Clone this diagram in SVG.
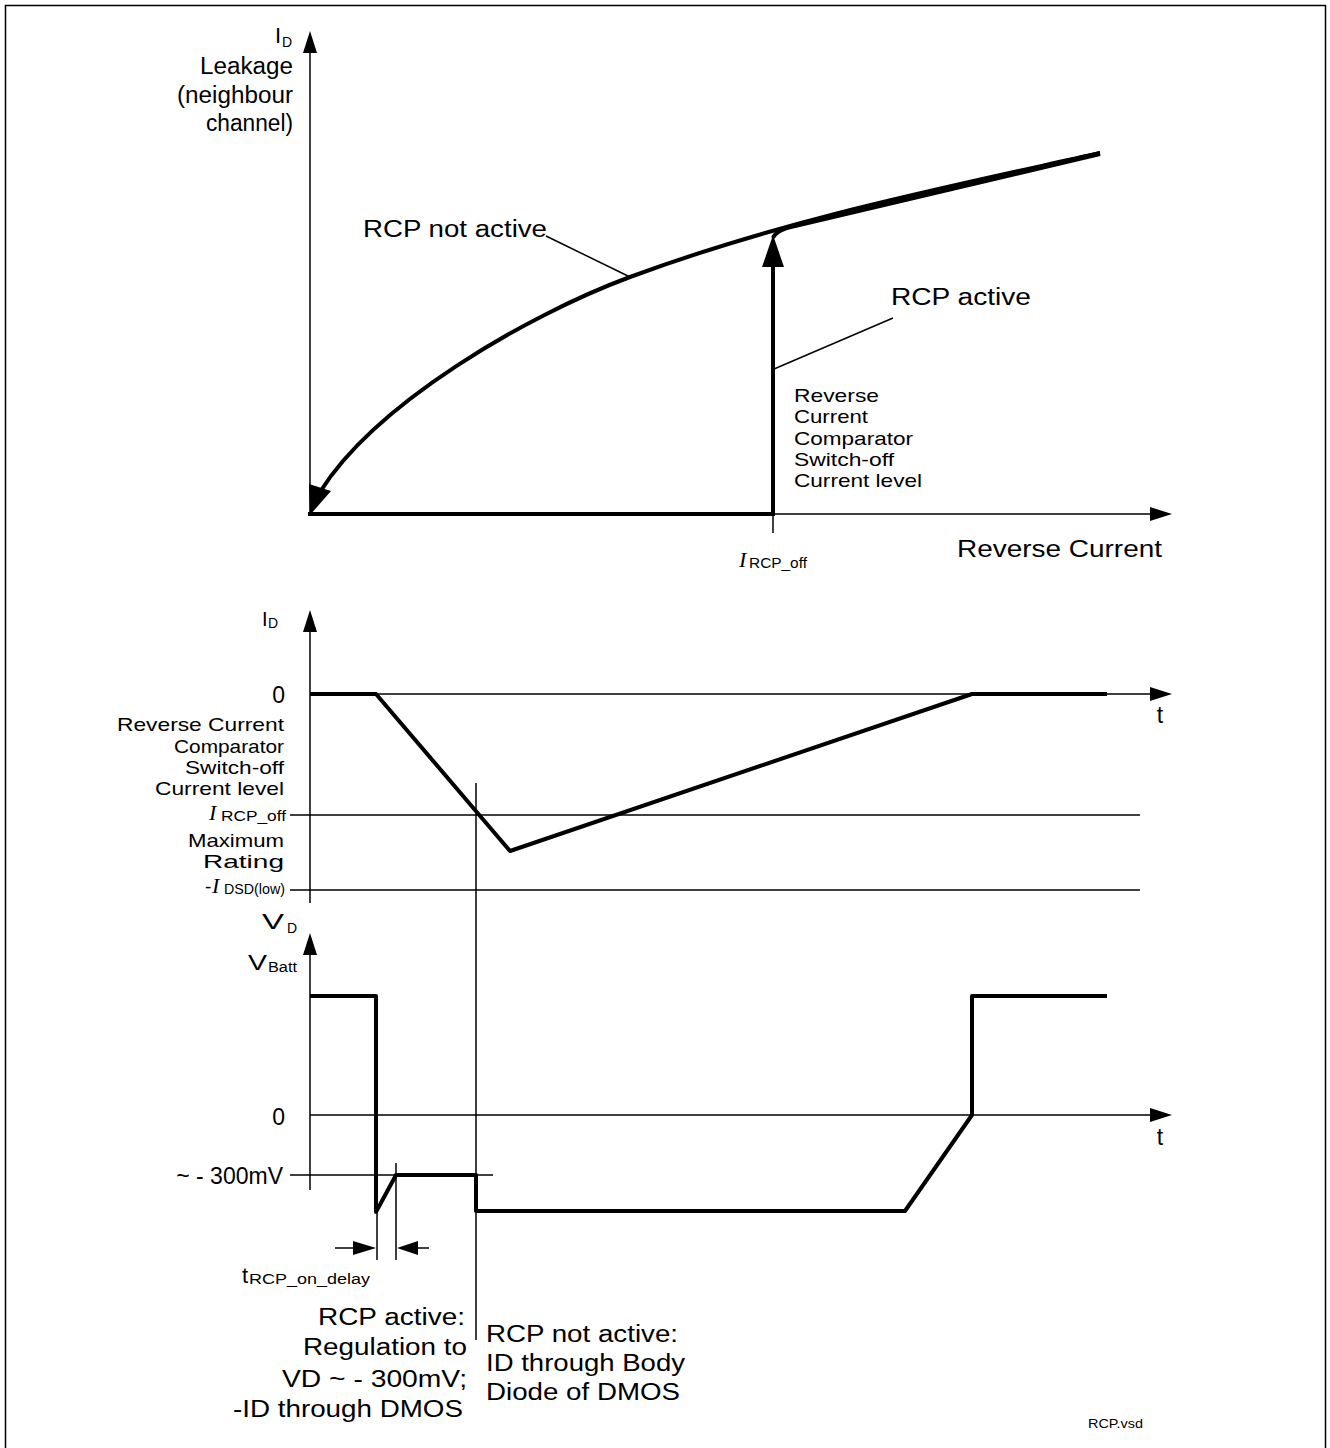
<svg xmlns="http://www.w3.org/2000/svg" width="1330" height="1448" viewBox="0 0 1330 1448">
<style>
.thin{stroke:#000;stroke-width:1.5;fill:none}
.thick{stroke:#000;stroke-width:4;fill:none;stroke-linejoin:round;stroke-linecap:butt}
.ah{fill:#000;stroke:none}
text{font-family:"Liberation Sans",Arial,sans-serif;fill:#000}
.it{font-family:"Liberation Serif","Times New Roman",serif;font-style:italic}
.b{font-size:23px}
.s{font-size:19px}
.sub{font-size:14px}
</style>
<defs>
<marker id="ax" markerUnits="userSpaceOnUse" markerWidth="22" markerHeight="14" refX="0" refY="7" orient="auto" viewBox="0 0 22 14"><path d="M0,0 L22,7 L0,14 z" fill="#000"/></marker>
<marker id="big" markerUnits="userSpaceOnUse" markerWidth="32" markerHeight="22" refX="0" refY="11" orient="auto" viewBox="0 0 32 22"><path d="M0,0 L32,11 L0,22 z" fill="#000"/></marker>
</defs>
<rect x="5.5" y="5.5" width="1320" height="1460" fill="#fff" stroke="#000" stroke-width="1.5"/>

<g id="connectors">
<!-- top chart axes -->
<line class="thin" x1="310" y1="514" x2="310" y2="53" marker-end="url(#ax)"/>
<line class="thin" x1="310" y1="514" x2="1150" y2="514" marker-end="url(#ax)"/>
<line class="thin" x1="773" y1="514" x2="773" y2="533"/>
<line class="thick" x1="308" y1="514" x2="775" y2="514"/>
<line class="thick" x1="773" y1="514" x2="773" y2="267" marker-end="url(#big)"/>
<path class="thick" d="M1100,153 C943,188 787,219 630,277 C525,316 375,404 320,492"/>
<polygon class="ah" points="310,515 309,484 331,491"/>
<path class="thick" d="M773,238 Q776,230 795,226 C880,205 980,182 1100,154"/>
<path class="thick" d="M800,223 C900,199 1000,176 1100,152" style="stroke-width:2"/>
<line class="thin" x1="546" y1="236" x2="630" y2="277"/>
<line class="thin" x1="893" y1="318" x2="774" y2="369"/>

<!-- middle chart -->
<line class="thin" x1="310" y1="903" x2="310" y2="632" marker-end="url(#ax)"/>
<line class="thin" x1="310" y1="694" x2="1150" y2="694" marker-end="url(#ax)"/>
<line class="thin" x1="290" y1="815" x2="1140" y2="815"/>
<line class="thin" x1="290" y1="890" x2="1140" y2="890"/>
<polyline class="thick" points="310,694 376,694 510,851 972,694 1107,694"/>
<line class="thin" x1="476" y1="783" x2="476" y2="1340"/>

<!-- bottom chart -->
<line class="thin" x1="310" y1="1190" x2="310" y2="955" marker-end="url(#ax)"/>
<line class="thin" x1="310" y1="1115" x2="1150" y2="1115" marker-end="url(#ax)"/>
<line class="thin" x1="290" y1="1175" x2="493" y2="1175"/>
<polyline class="thick" points="310,996 376,996 376,1212 396,1175 476,1175 476,1211 905,1211 972,1115 972,996 1107,996"/>
<line class="thin" x1="377" y1="1212" x2="377" y2="1260"/>
<line class="thin" x1="396" y1="1163" x2="396" y2="1260"/>
<line class="thin" x1="335" y1="1248" x2="354" y2="1248"/>
<polygon class="ah" points="353,1241 376,1248 353,1255"/>
<line class="thin" x1="418" y1="1248" x2="429" y2="1248"/>
<polygon class="ah" points="418,1241 397,1248 418,1255"/>
</g>

<g id="top-labels">
<text x="275" y="43" font-size="22">I</text>
<text x="282" y="47" class="sub">D</text>
<text x="200" y="74" class="b" textLength="93" lengthAdjust="spacingAndGlyphs">Leakage</text>
<text x="177" y="103" class="b" textLength="116" lengthAdjust="spacingAndGlyphs">(neighbour</text>
<text x="206" y="131" class="b" textLength="87" lengthAdjust="spacingAndGlyphs">channel)</text>
<text x="363" y="237" class="b" textLength="184" lengthAdjust="spacingAndGlyphs">RCP not active</text>
<text x="891" y="305" class="b" textLength="140" lengthAdjust="spacingAndGlyphs">RCP active</text>
<text x="794" y="402" class="s" textLength="85" lengthAdjust="spacingAndGlyphs">Reverse</text>
<text x="794" y="423" class="s" textLength="74" lengthAdjust="spacingAndGlyphs">Current</text>
<text x="794" y="445" class="s" textLength="119" lengthAdjust="spacingAndGlyphs">Comparator</text>
<text x="794" y="466" class="s" textLength="100" lengthAdjust="spacingAndGlyphs">Switch-off</text>
<text x="794" y="487" class="s" textLength="128" lengthAdjust="spacingAndGlyphs">Current level</text>
<text x="739" y="567" class="it" font-size="22">I</text>
<text x="749" y="568" class="sub" textLength="58" lengthAdjust="spacingAndGlyphs">RCP_off</text>
<text x="957" y="557" class="b" textLength="205" lengthAdjust="spacingAndGlyphs">Reverse Current</text>
</g>

<g id="middle-labels">
<text x="262" y="626" font-size="20">I</text>
<text x="268" y="628" class="sub">D</text>
<text x="285" y="703" class="b" text-anchor="end">0</text>
<text x="1160" y="723" class="b" text-anchor="middle">t</text>
<text x="117" y="731" class="s" textLength="167" lengthAdjust="spacingAndGlyphs">Reverse Current</text>
<text x="174" y="753" class="s" textLength="110" lengthAdjust="spacingAndGlyphs">Comparator</text>
<text x="185" y="774" class="s" textLength="99" lengthAdjust="spacingAndGlyphs">Switch-off</text>
<text x="155" y="795" class="s" textLength="129" lengthAdjust="spacingAndGlyphs">Current level</text>
<text x="209" y="820" class="it" font-size="22">I</text>
<text x="221" y="821" class="sub" textLength="65" lengthAdjust="spacingAndGlyphs">RCP_off</text>
<text x="188" y="847" class="s" textLength="96" lengthAdjust="spacingAndGlyphs">Maximum</text>
<text x="203" y="868" class="s" textLength="81" lengthAdjust="spacingAndGlyphs">Rating</text>
<text x="205" y="893" class="s">-</text>
<text x="212" y="893" class="it" font-size="22">I</text>
<text x="224" y="894" class="sub" textLength="61" lengthAdjust="spacingAndGlyphs">DSD(low)</text>
</g>

<g id="bottom-labels">
<text x="262" y="929" font-size="22" textLength="22" lengthAdjust="spacingAndGlyphs">V</text>
<text x="287" y="933" class="sub">D</text>
<text x="248" y="970" font-size="22" textLength="19" lengthAdjust="spacingAndGlyphs">V</text>
<text x="268" y="972" class="sub" textLength="29" lengthAdjust="spacingAndGlyphs">Batt</text>
<text x="285" y="1125" class="b" text-anchor="end">0</text>
<text x="1160" y="1145" class="b" text-anchor="middle">t</text>
<text x="283" y="1184" class="b" text-anchor="end">~ - 300mV</text>
<text x="242" y="1283" font-size="22">t</text>
<text x="249" y="1284" class="sub" textLength="121" lengthAdjust="spacingAndGlyphs">RCP_on_delay</text>
<text x="318" y="1325" class="b" textLength="147" lengthAdjust="spacingAndGlyphs">RCP active:</text>
<text x="303" y="1355" class="b" textLength="164" lengthAdjust="spacingAndGlyphs">Regulation to</text>
<text x="282" y="1387" class="b" textLength="185" lengthAdjust="spacingAndGlyphs">VD ~ - 300mV;</text>
<text x="233" y="1417" class="b" textLength="230" lengthAdjust="spacingAndGlyphs">-ID through DMOS</text>
<text x="486" y="1342" class="b" textLength="192" lengthAdjust="spacingAndGlyphs">RCP not active:</text>
<text x="486" y="1371" class="b" textLength="199" lengthAdjust="spacingAndGlyphs">ID through Body</text>
<text x="486" y="1400" class="b" textLength="194" lengthAdjust="spacingAndGlyphs">Diode of DMOS</text>
<text x="1088" y="1428" font-size="13" textLength="55" lengthAdjust="spacingAndGlyphs">RCP.vsd</text>
</g>
</svg>
